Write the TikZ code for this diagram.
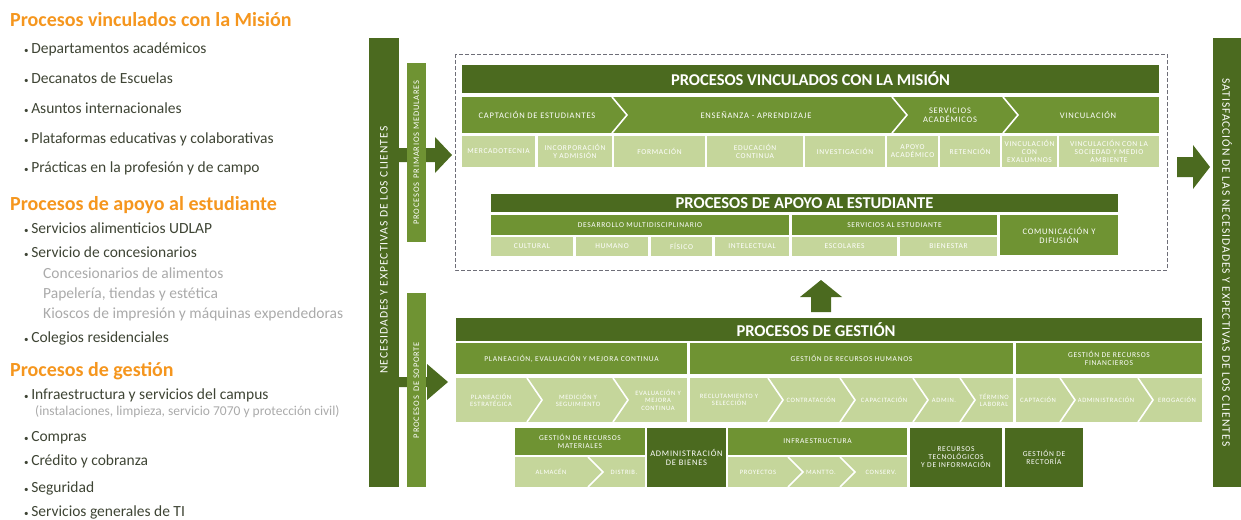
\documentclass[tikz,border=0pt]{standalone}
\usepackage{fontspec}
\setmainfont{Carlito}
\newfontfamily\cellfont[LetterSpace=9]{Carlito}
\definecolor{gdark}{RGB}{75,106,31}
\definecolor{gmid}{RGB}{111,147,51}
\definecolor{glite}{RGB}{197,214,155}
\definecolor{orangehead}{RGB}{245,150,30}
\definecolor{itemtext}{RGB}{62,68,52}
\definecolor{subtext}{RGB}{170,170,170}
\definecolor{dashgray}{RGB}{110,110,120}
\tikzset{
    cellbase/.style={inner sep=0pt, align=center, text=white},
    dark/.style={cellbase, fill=gdark},
    mid/.style={cellbase, fill=gmid},
    lite/.style={cellbase, fill=glite},
    ttl/.style={font=\bfseries\fontsize{16.5}{16.5}\selectfont},
    capfont/.style={font=\cellfont\fontsize{8.5}{9}\selectfont},
    tny/.style={font=\cellfont\fontsize{7.5}{8}\selectfont, text=white, align=center,
        inner sep=0pt},
    tnyg/.style={tny, font=\cellfont\fontsize{6.6}{7.4}\selectfont},
    sep/.style={draw=white, line width=1.6pt},
    bartext/.style={text=white, inner sep=0pt, font=\cellfont\fontsize{11.5}{12}\selectfont},
    listhead/.style={anchor=base west, inner sep=0pt, text=orangehead,
        font=\bfseries\fontsize{20}{20}\selectfont},
    listitem/.style={anchor=base west, inner sep=0pt, text=itemtext,
        font=\fontsize{15.5}{16}\selectfont},
    listsub/.style={anchor=base west, inner sep=0pt, text=subtext,
        font=\fontsize{15.5}{16}\selectfont},
}
% block from its two corners: name, x1, y1, x2, y2, style, text
\newcommand{\blk}[7]{%
    \pgfmathsetmacro\blkw{#4-#2}\pgfmathsetmacro\blkh{#5-#3}%
    \node[#6, minimum width=\blkw pt, minimum height=\blkh pt] (#1)
        at ({(#2+#4)/2}, {(#3+#5)/2}) {#7};}
% white chevron line at x=#1 from y=#2 to y=#3
\newcommand{\chev}[3]{%
    \draw[sep] (#1, #2) -- ({#1+15}, {(#2+#3)/2}) -- (#1, #3);}

\begin{document}
\begin{tikzpicture}[x=1pt, y=-1pt]
    \useasboundingbox (0, 0) rectangle (1241, 519);

    % list on the left
    \node[listhead] (hmision) at (10, 27) {Procesos vinculados con la Misión};
    \node[listhead] (happoyo) at (10, 210) {Procesos de apoyo al estudiante};
    \node[listhead] (hgestion) at (10, 376) {Procesos de gestión};
    \foreach \txt/\yy [count=\i] in {Departamentos académicos/53,
            Decanatos de Escuelas/83, Asuntos internacionales/113,
            Plataformas educativas y colaborativas/143,
            Prácticas en la profesión y de campo/172,
            Servicios alimenticios UDLAP/233, Servicio de concesionarios/257,
            Colegios residenciales/342,
            Infraestructura y servicios del campus/399, Compras/441,
            Crédito y cobranza/465, Seguridad/492, Servicios generales de TI/516}
        \node[listitem] (item\i) at (24, \yy) {{\small•}\,\txt};
    \foreach \txt/\yy [count=\i] in {Concesionarios de alimentos/278,
            {Papelería, tiendas y estética}/298,
            Kioscos de impresión y máquinas expendedoras/318}
        \node[listsub] (sub\i) at (43, \yy) {\txt};
    \node[listsub, font=\fontsize{13.5}{14}\selectfont] (subinfra) at (35, 415)
        {(instalaciones, limpieza, servicio 7070 y protección civil)};

    % side bars and arrows
    \fill[gdark] (398, 148) -- (435, 148) -- (435, 137) -- (452, 155)
        -- (435, 173) -- (435, 162) -- (398, 162) -- cycle;
    \fill[gdark] (398, 377) -- (427, 377) -- (427, 364) -- (448, 382)
        -- (427, 400) -- (427, 387) -- (398, 387) -- cycle;
    \blk{needs}{369}{38}{399}{487}{dark}{}
    \blk{medul}{407}{63}{426}{242}{mid}{}
    \blk{soporte}{407}{293}{426}{487}{mid}{}
    \node[bartext, rotate=90] (needstxt) at (384, 250)
        {NECESIDADES Y EXPECTIVAS DE LOS CLIENTES};
    \node[bartext, rotate=90, font=\cellfont\fontsize{8.5}{9}\selectfont] (medultxt)
        at (medul) {PROCESOS\enspace PRIMARIOS MEDULARES};
    \node[bartext, rotate=90, font=\cellfont\fontsize{8.5}{9}\selectfont] (soportetxt)
        at (soporte) {PROCESOS\enspace DE SOPORTE};
    \fill[gdark] (1177, 157) -- (1193, 157) -- (1193, 145) -- (1210, 167)
        -- (1193, 189) -- (1193, 177) -- (1177, 177) -- cycle;
    \blk{satis}{1213}{38}{1241}{487}{dark}{}
    \node[bartext, rotate=-90] (satistxt) at (satis)
        {SATISFACCIÓN DE LAS NECESIDADES Y EXPECTIVAS DE LOS CLIENTES};
    \draw[dashgray, dash pattern=on 4pt off 2pt, line width=0.8pt]
        (455, 54) rectangle (1167, 270);
    \fill[gdark] (811, 312) -- (811, 297) -- (800, 297) -- (821, 280)
        -- (842, 297) -- (831, 297) -- (831, 312) -- cycle;

    % procesos vinculados con la mision
    \blk{vmhead}{462}{65}{1159}{93}{dark, ttl}{PROCESOS VINCULADOS CON LA MISIÓN}
    \blk{vmrow}{462}{97}{1159}{133}{mid}{}
    \foreach \xx in {612, 892, 1003}
        {\chev{\xx}{97}{133}}
    \node[tny, capfont] (capt) at (537, 115) {CAPTACIÓN DE ESTUDIANTES};
    \node[tny, capfont] (ense) at (756, 115) {ENSEÑANZA - APRENDIZAJE};
    \node[tny, capfont] (sacad) at (950, 115) {SERVICIOS\\ACADÉMICOS};
    \node[tny, capfont] (vinc) at (1088, 115) {VINCULACIÓN};
    \foreach \nm/\xa/\xb/\txt in {mkt/462/535/MERCADOTECNIA,
            inc/538/612/INCORPORACIÓN\\Y ADMISIÓN, form/614/705/FORMACIÓN,
            educ/707/803/EDUCACIÓN\\CONTINUA, inv/805/885/INVESTIGACIÓN,
            apoyo/887/938/APOYO\\ACADÉMICO, ret/940/1000/RETENCIÓN,
            vexa/1002/1057/VINCULACIÓN\\CON\\EXALUMNOS,
            vsoc/1059/1159/VINCULACIÓN CON LA\\SOCIEDAD Y MEDIO\\AMBIENTE}
        {\blk{\nm}{\xa}{136}{\xb}{167}{lite, tny}{\txt}}

    % procesos de apoyo al estudiante
    \blk{aphead}{491}{194}{1118}{212}{dark, ttl}{PROCESOS DE APOYO AL ESTUDIANTE}
    \blk{desm}{491}{215}{789}{235}{mid, tny}{DESARROLLO MULTIDISCIPLINARIO}
    \blk{serve}{792}{215}{997}{235}{mid, tny}{SERVICIOS AL ESTUDIANTE}
    \blk{comd}{1000}{215}{1118}{255}{mid, tny, capfont}{COMUNICACIÓN Y\\DIFUSIÓN}
    \foreach \nm/\xa/\xb/\txt in {cult/491/573/CULTURAL, hum/576/648/HUMANO,
            fis/651/712/FÍSICO, intel/715/789/INTELECTUAL,
            esc/792/897/ESCOLARES, bien/900/997/BIENESTAR}
        {\blk{\nm}{\xa}{237}{\xb}{256}{lite, tny}{\txt}}

    % procesos de gestion
    \blk{gshead}{456}{318}{1202}{341}{dark}{}
    \node[ttl, text=white] (gstitle) at (816, 330) {PROCESOS DE GESTIÓN};
    \blk{pem}{456}{343}{687}{374}{mid, tny}{PLANEACIÓN, EVALUACIÓN Y MEJORA CONTINUA}
    \blk{grh}{690}{343}{1013}{374}{mid, tny}{GESTIÓN DE RECURSOS HUMANOS}
    \blk{grf}{1016}{343}{1202}{374}{mid, tny}{GESTIÓN DE RECURSOS\\FINANCIEROS}
    \blk{lpem}{456}{378}{687}{422}{lite}{}
    \blk{lgrh}{690}{378}{1013}{422}{lite}{}
    \blk{lgrf}{1016}{378}{1202}{422}{lite}{}
    \foreach \xx in {527, 613, 768, 840, 913, 960, 1060, 1138}
        {\chev{\xx}{378}{422}}
    \foreach \nm/\xx/\txt in {pest/491/PLANEACIÓN\\ESTRATÉGICA,
            mseg/578/MEDICIÓN Y\\SEGUIMIENTO, evmc/658/EVALUACIÓN Y\\MEJORA\\CONTINUA,
            recl/729/RECLUTAMIENTO Y\\SELECCIÓN, contr/811/CONTRATACIÓN,
            capac/884/CAPACITACIÓN, admin/944/ADMIN., term/994/TÉRMINO\\LABORAL,
            captf/1038/CAPTACIÓN, admf/1106/ADMINISTRACIÓN, erog/1177/EROGACIÓN}
        \node[tnyg] (\nm) at (\xx, 400) {\txt};

    \blk{grm}{515}{428}{645}{455}{mid, tny}{GESTIÓN DE RECURSOS\\MATERIALES}
    \blk{lgrm}{515}{457}{645}{487}{lite}{}
    \chev{588}{457}{487}
    \node[tnyg] (alm) at (551, 472) {ALMACÉN};
    \node[tnyg] (dist) at (624, 472) {DISTRIB.};
    \blk{adbien}{647}{428}{726}{487}{dark, tny, capfont}{ADMINISTRACIÓN\\DE BIENES}
    \blk{infra}{728}{428}{907}{455}{mid, tny}{INFRAESTRUCTURA}
    \blk{linfra}{728}{457}{907}{487}{lite}{}
    \foreach \xx in {788, 840}
        {\chev{\xx}{457}{487}}
    \node[tnyg] (proy) at (758, 472) {PROYECTOS};
    \node[tnyg] (mantto) at (821, 472) {MANTTO.};
    \node[tnyg] (conserv) at (881, 472) {CONSERV.};
    \blk{rtec}{910}{428}{1002}{487}{dark, tny}{RECURSOS\\TECNOLÓGICOS\\Y DE INFORMACIÓN}
    \blk{grect}{1005}{428}{1083}{487}{dark, tny}{GESTIÓN DE\\RECTORÍA}
\end{tikzpicture}
\end{document}
